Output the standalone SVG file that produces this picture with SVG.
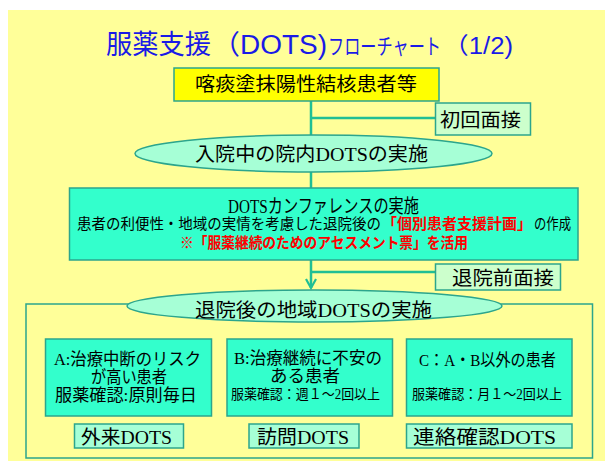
<svg xmlns="http://www.w3.org/2000/svg" width="605" height="461" viewBox="0 0 605 461">
<style>
.bg{fill:#ffff99}
.jp{font-family:"Liberation Serif","Noto Sans CJK JP",serif;fill:#000}
.ttl{font-family:"Liberation Sans","Noto Sans CJK JP",sans-serif;fill:#1a1ae6}
.red{fill:#ff0000;font-weight:bold}
.turq{fill:#33ffcc;stroke:#2ca58d;stroke-width:1.5}
.mint{fill:#a6ffd6;stroke:#2ca58d;stroke-width:1.5}
.pale{fill:#ccffcc;stroke:#2ca58d;stroke-width:1.5}
.conn{stroke:#1fbf95;stroke-width:2.5;fill:none}
</style>
<defs>
<marker id="arr" viewBox="0 0 12 12" refX="10" refY="6" markerWidth="12" markerHeight="12" markerUnits="userSpaceOnUse" orient="auto">
<path d="M1,1 L10,6 L1,11" fill="none" stroke="#1fbf95" stroke-width="2.2"/>
</marker>
</defs>
<rect x="0" y="0" width="605" height="461" fill="#ffffff"/>
<rect class="bg" x="8" y="10" width="597" height="451"/>

<g id="title">
<text class="ttl" y="54"><tspan x="106" font-size="27" textLength="105" lengthAdjust="spacingAndGlyphs">服薬支援</tspan><tspan x="212" font-size="27" textLength="115" lengthAdjust="spacingAndGlyphs">（DOTS)</tspan></text>
<text class="ttl" x="328" y="54" font-size="16.2" textLength="113" lengthAdjust="spacingAndGlyphs" transform="matrix(1,0,0,1.35,0,-18.9)">フローチャート</text>
<text class="ttl" x="443" y="54" font-size="23" textLength="70" lengthAdjust="spacingAndGlyphs">（1/2)</text>
</g>

<g id="connectors">
<line class="conn" x1="311" y1="101" x2="311" y2="135"/>
<line class="conn" x1="311" y1="118" x2="435" y2="118"/>
<line class="conn" x1="311" y1="172" x2="311" y2="188"/>
<line class="conn" x1="311" y1="260" x2="311" y2="288" marker-end="url(#arr)"/>
<line class="conn" x1="311" y1="272" x2="435" y2="272"/>
</g>

<g id="patients">
<rect x="174" y="68" width="265" height="33" fill="#ffff00" stroke="#2ca58d" stroke-width="1.5"/>
<text class="jp" x="195" y="91" font-size="19" textLength="222" lengthAdjust="spacingAndGlyphs">喀痰塗抹陽性結核患者等</text>
</g>

<g id="first-interview">
<rect class="pale" x="435.5" y="103" width="95" height="32"/>
<text class="jp" x="440" y="127" font-size="19" textLength="81" lengthAdjust="spacingAndGlyphs">初回面接</text>
</g>

<g id="inpatient-dots">
<ellipse class="mint" cx="313.5" cy="153.5" rx="178.5" ry="18.5"/>
<text class="jp" x="195" y="161" font-size="19" textLength="233" lengthAdjust="spacingAndGlyphs">入院中の院内DOTSの実施</text>
</g>

<g id="conference">
<rect class="turq" x="69.5" y="188" width="508.5" height="72"/>
<text class="jp" x="228" y="213" font-size="19" textLength="191" lengthAdjust="spacingAndGlyphs">DOTSカンファレンスの実施</text>
<text class="jp" x="77" y="229" font-size="15" textLength="304" lengthAdjust="spacingAndGlyphs">患者の利便性・地域の実情を考慮した退院後の</text>
<text class="jp red" x="382" y="229" font-size="15" textLength="150" lengthAdjust="spacingAndGlyphs">「個別患者支援計画」</text>
<text class="jp" x="534" y="229" font-size="15" textLength="37" lengthAdjust="spacingAndGlyphs">の作成</text>
<text class="jp red" x="180" y="248" font-size="15" textLength="288" lengthAdjust="spacingAndGlyphs">※「服薬継続のためのアセスメント票」を活用</text>
</g>

<g id="discharge-interview">
<rect class="pale" x="435.5" y="264" width="125" height="26"/>
<text class="jp" x="452" y="285" font-size="19" textLength="102" lengthAdjust="spacingAndGlyphs">退院前面接</text>
</g>

<g id="community-dots">
<rect x="26" y="304" width="566.5" height="154" fill="none" stroke="#2ca58d" stroke-width="1.5"/>
<ellipse class="mint" cx="314.5" cy="306" rx="187.5" ry="16"/>
<text class="jp" x="195" y="317" font-size="19" textLength="237" lengthAdjust="spacingAndGlyphs">退院後の地域DOTSの実施</text>
</g>

<g id="type-a">
<rect class="turq" x="45.5" y="339" width="166" height="77"/>
<text class="jp" x="54" y="365" font-size="17" textLength="147" lengthAdjust="spacingAndGlyphs">A:治療中断のリスク</text>
<text class="jp" x="91" y="383" font-size="17" textLength="76" lengthAdjust="spacingAndGlyphs">が高い患者</text>
<text class="jp" x="55" y="401" font-size="17" textLength="142" lengthAdjust="spacingAndGlyphs">服薬確認:原則毎日</text>
</g>

<g id="type-b">
<rect class="turq" x="227" y="339" width="165.5" height="77"/>
<text class="jp" x="234" y="364" font-size="17" textLength="148" lengthAdjust="spacingAndGlyphs">B:治療継続に不安の</text>
<text class="jp" x="270" y="382" font-size="17" textLength="70" lengthAdjust="spacingAndGlyphs">ある患者</text>
<text class="jp" x="231" y="399" font-size="14" textLength="149" lengthAdjust="spacingAndGlyphs">服薬確認：週１～2回以上</text>
</g>

<g id="type-c">
<rect class="turq" x="406.5" y="339" width="165.5" height="77"/>
<text class="jp" x="419" y="366" font-size="17" textLength="137" lengthAdjust="spacingAndGlyphs">C：A・B以外の患者</text>
<text class="jp" x="412" y="399" font-size="14" textLength="150" lengthAdjust="spacingAndGlyphs">服薬確認：月１～2回以上</text>
</g>

<g id="outpatient-dots">
<rect class="mint" x="74.5" y="424" width="109" height="24"/>
<text class="jp" x="81" y="444" font-size="19" textLength="91" lengthAdjust="spacingAndGlyphs">外来DOTS</text>
</g>

<g id="visit-dots">
<rect class="mint" x="249" y="424" width="110" height="24"/>
<text class="jp" x="257" y="444" font-size="19" textLength="92" lengthAdjust="spacingAndGlyphs">訪問DOTS</text>
</g>

<g id="contact-dots">
<rect class="mint" x="406.5" y="424" width="165.5" height="24"/>
<text class="jp" x="413" y="444" font-size="19" textLength="143" lengthAdjust="spacingAndGlyphs">連絡確認DOTS</text>
</g>
</svg>
